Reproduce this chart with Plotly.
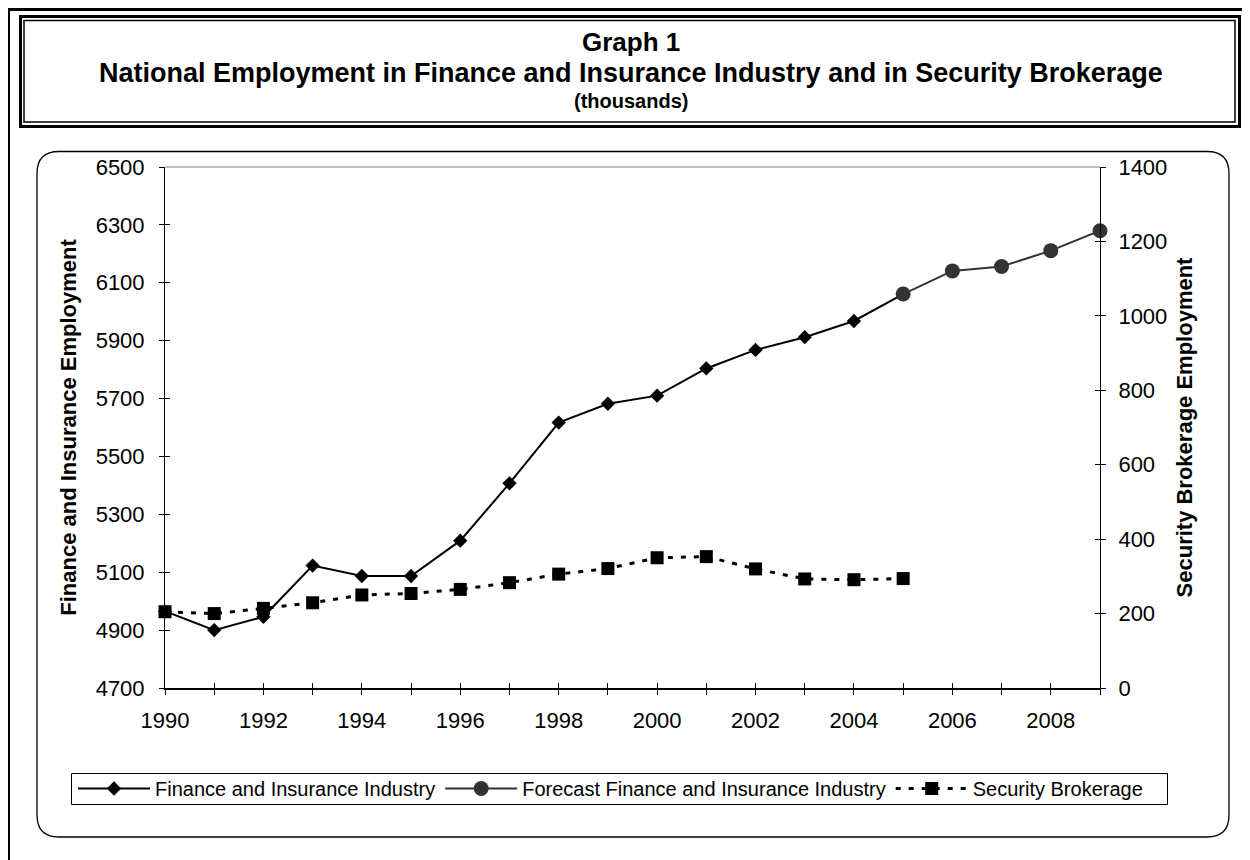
import plotly.graph_objects as go

# ---------------- data ----------------
fin_years = [1990, 1991, 1992, 1993, 1994, 1995, 1996, 1997, 1998, 1999,
             2000, 2001, 2002, 2003, 2004, 2005]
fin_values = [4965, 4900, 4946, 5123, 5087, 5087, 5209, 5407, 5617, 5682,
              5710, 5804, 5868, 5912, 5968, 6061]

fc_years = [2005, 2006, 2007, 2008, 2009]
fc_values = [6061, 6141, 6156, 6211, 6280]

sec_years = [1990, 1991, 1992, 1993, 1994, 1995, 1996, 1997, 1998, 1999,
             2000, 2001, 2002, 2003, 2004, 2005]
sec_values = [205, 200, 214, 229, 250, 254, 265, 283, 306, 321,
              350, 353, 320, 293, 291, 294]

tick_years = list(range(1990, 2010))
tick_text = [str(y) if y % 2 == 0 else "" for y in tick_years]

left_range = [4700, 6500]
right_range = [0, 1400]

title_lines = ["Graph 1",
               "National Employment in Finance and Insurance Industry and in Security Brokerage",
               "(thousands)"]
left_title = "Finance and Insurance Employment"
right_title = "Security Brokerage Employment"
names = ["Finance and Insurance Industry",
         "Forecast Finance and Insurance Industry",
         "Security Brokerage"]

# ---------------- layout geometry ----------------
W, H = 1250, 860
OFF = 8                      # page offset of the figure (body margin)
PL, PR, PT, PB = 165, 1100, 167, 688   # plot area in page pixels
PW = PR - PL
PH = PB - PT
ML, MT = PL - OFF, PT - OFF
MR, MB = W - ML - PW, H - MT - PH
FONT = "Liberation Sans, Arial, sans-serif"


def fx(px):
    return (px - PL) / PW


def fy(py):
    return (PB - py) / PH


fig = go.Figure()

fig.add_trace(go.Scatter(
    x=fin_years, y=fin_values, name=names[0], mode="lines+markers",
    line=dict(color="black", width=2),
    marker=dict(symbol="diamond", size=11, color="black"),
    cliponaxis=False, xaxis="x", yaxis="y"))

fig.add_trace(go.Scatter(
    x=fc_years, y=fc_values, name=names[1], mode="lines+markers",
    line=dict(color="#333333", width=2),
    marker=dict(symbol="circle", size=15, color="#333333"),
    cliponaxis=False, xaxis="x", yaxis="y"))

fig.add_trace(go.Scatter(
    x=sec_years, y=sec_values, name=names[2], mode="lines+markers",
    line=dict(color="black", width=3, dash="5px,8px"),
    marker=dict(symbol="square", size=13, color="black"),
    cliponaxis=False, xaxis="x", yaxis="y2"))

# invisible helper traces so the overlay tick axes are drawn
for xa, ya in [("x2", "y"), ("x", "y3"), ("x", "y4")]:
    fig.add_trace(go.Scatter(x=[None], y=[None], xaxis=xa, yaxis=ya,
                             showlegend=False, hoverinfo="skip"))

tickfont = dict(family=FONT, size=22, color="black")

fig.update_layout(
    width=W, height=H,
    margin=dict(l=ML, r=MR, t=MT, b=MB),
    paper_bgcolor="white", plot_bgcolor="white",
    font=dict(family=FONT, color="black"),
    showlegend=True,
    xaxis=dict(range=[1990, 2009], tickvals=tick_years, ticktext=tick_text,
               ticks="outside", ticklen=5, tickcolor="black", tickwidth=1,
               showline=True, linecolor="black", linewidth=2,
               showgrid=False, zeroline=False, tickfont=tickfont,
               ticklabelstandoff=7),
    xaxis2=dict(range=[1990, 2009], overlaying="x", anchor="y", side="bottom",
                tickvals=tick_years, ticks="inside", ticklen=5,
                tickcolor="black", showticklabels=False, showline=False,
                showgrid=False, zeroline=False),
    yaxis=dict(range=left_range, dtick=200, tick0=4700,
               ticks="outside", ticklen=5, tickcolor="black",
               showline=True, linecolor="black", linewidth=1,
               showgrid=False, zeroline=False, tickfont=tickfont,
               ticklabelstandoff=10,
               title=dict(text="<b>" + left_title + "</b>",
                          font=dict(family=FONT, size=22, color="black"),
                          standoff=12)),
    yaxis3=dict(range=left_range, dtick=200, tick0=4700, overlaying="y",
                anchor="x", side="left", ticks="inside", ticklen=5,
                tickcolor="black", showticklabels=False, showline=False,
                showgrid=False, zeroline=False),
    yaxis2=dict(range=right_range, dtick=200, tick0=0, overlaying="y",
                anchor="x", side="right",
                ticks="outside", ticklen=5, tickcolor="black",
                showline=True, linecolor="black", linewidth=1,
                showgrid=False, zeroline=False, tickfont=tickfont,
                ticklabelstandoff=8,
                title=dict(text="<b>" + right_title + "</b>",
                           font=dict(family=FONT, size=22, color="black"),
                           standoff=10)),
    yaxis4=dict(range=right_range, dtick=200, tick0=0, overlaying="y",
                anchor="x", side="right", ticks="inside", ticklen=5,
                tickcolor="black", showticklabels=False, showline=False,
                showgrid=False, zeroline=False),
    legend=dict(orientation="h", x=fx(73), y=fy(769), xanchor="left",
                yanchor="top", borderwidth=0,
                bgcolor="rgba(0,0,0,0)", font=dict(family=FONT, size=20, color="black"),
                itemwidth=72, traceorder="normal"),
)

# ---------- decorative frames ----------
shapes = []
# page border (left and top)
shapes.append(dict(type="line", xref="paper", yref="paper",
                   x0=fx(8.5), x1=fx(8.5), y0=fy(8), y1=fy(H + 20),
                   line=dict(color="black", width=3)))
shapes.append(dict(type="line", xref="paper", yref="paper",
                   x0=fx(7), x1=fx(W + 20), y0=fy(9.5), y1=fy(9.5),
                   line=dict(color="black", width=3)))
# title box: double border
shapes.append(dict(type="rect", xref="paper", yref="paper",
                   x0=fx(20.5), x1=fx(1239.5), y0=fy(16.5), y1=fy(126.5),
                   line=dict(color="black", width=3)))
shapes.append(dict(type="rect", xref="paper", yref="paper",
                   x0=fx(24), x1=fx(1235), y0=fy(20.5), y1=fy(122),
                   line=dict(color="black", width=1.5)))
# rounded chart box
x0p, x1p, y0p, y1p, r = 37, 1229, 151.5, 837, 22
path = (f"M {fx(x0p + r)},{fy(y0p)} L {fx(x1p - r)},{fy(y0p)} "
        f"Q {fx(x1p)},{fy(y0p)} {fx(x1p)},{fy(y0p + r)} "
        f"L {fx(x1p)},{fy(y1p - r)} "
        f"Q {fx(x1p)},{fy(y1p)} {fx(x1p - r)},{fy(y1p)} "
        f"L {fx(x0p + r)},{fy(y1p)} "
        f"Q {fx(x0p)},{fy(y1p)} {fx(x0p)},{fy(y1p - r)} "
        f"L {fx(x0p)},{fy(y0p + r)} "
        f"Q {fx(x0p)},{fy(y0p)} {fx(x0p + r)},{fy(y0p)} Z")
shapes.append(dict(type="path", xref="paper", yref="paper", path=path,
                   line=dict(color="black", width=1.3), layer="below"))
# legend frame
shapes.append(dict(type="rect", xref="paper", yref="paper",
                   x0=fx(71.5), x1=fx(1167.5), y0=fy(773.5), y1=fy(804.5),
                   line=dict(color="black", width=1), layer="below"))
# grey top border of the plot area
shapes.append(dict(type="line", xref="paper", yref="paper",
                   x0=0, x1=1, y0=1, y1=1,
                   line=dict(color="#808080", width=1)))
fig.update_layout(shapes=shapes)

# ---------- title text ----------
cx = fx(631)
fig.add_annotation(text="<b>" + title_lines[0] + "</b>", xref="paper", yref="paper",
                   x=cx, y=fy(42), showarrow=False, xanchor="center", yanchor="middle",
                   font=dict(family=FONT, size=26, color="black"))
fig.add_annotation(text="<b>" + title_lines[1] + "</b>", xref="paper", yref="paper",
                   x=cx, y=fy(73), showarrow=False, xanchor="center", yanchor="middle",
                   font=dict(family=FONT, size=27, color="black"))
fig.add_annotation(text="<b>" + title_lines[2] + "</b>", xref="paper", yref="paper",
                   x=cx, y=fy(101), showarrow=False, xanchor="center", yanchor="middle",
                   font=dict(family=FONT, size=20, color="black"))

fig.write_html("out.html")
